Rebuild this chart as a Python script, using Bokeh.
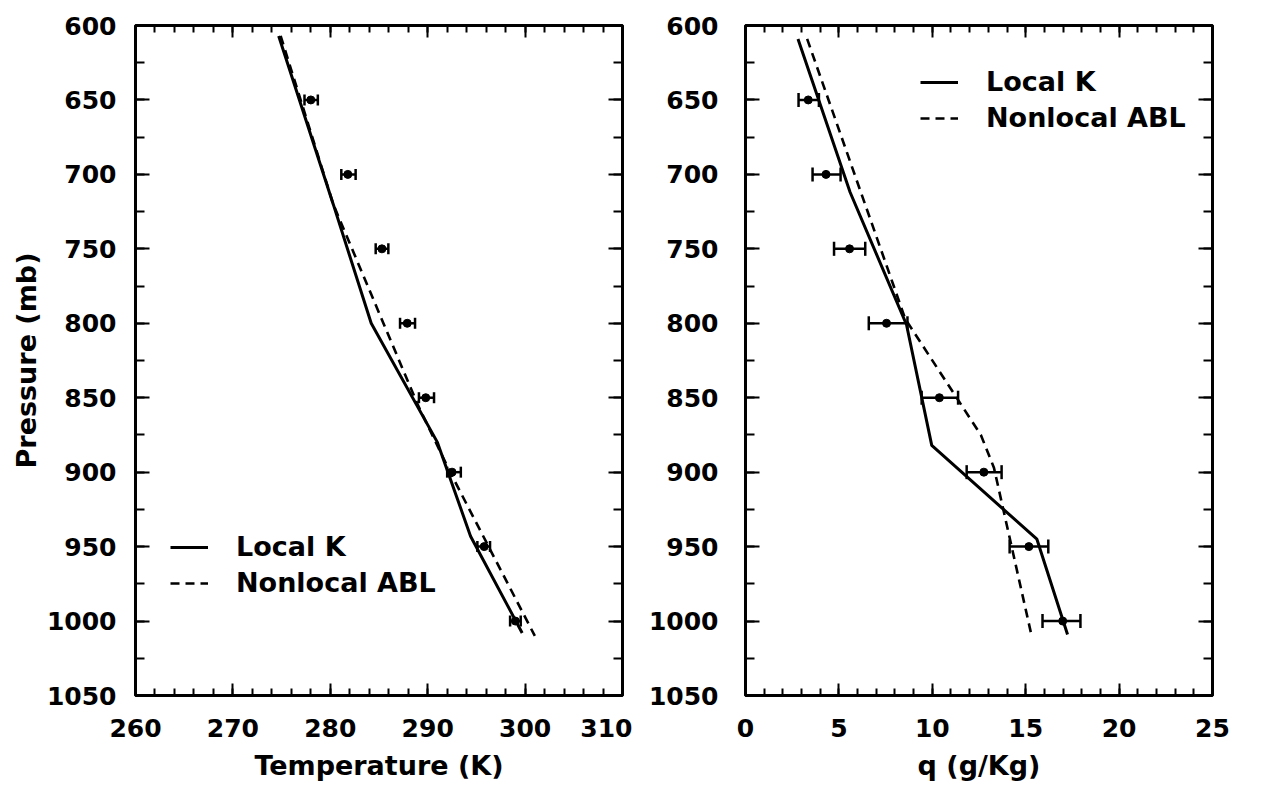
from bokeh.plotting import figure
from bokeh.layouts import row
from bokeh.models import (Range1d, SingleIntervalTicker, LinearAxis, Whisker, TeeHead,
                          ColumnDataSource, Legend, LegendItem, CustomJSTickFormatter, Spacer)
from bokeh.embed import file_html
from bokeh.resources import INLINE

# ---------------- data ----------------
obs_pressure = [650, 700, 750, 800, 850, 900, 950, 1000]

# Temperature panel
obs_temp = [278.0, 281.8, 285.3, 287.9, 289.8, 292.5, 295.8, 299.0]
obs_temp_lo = [277.35, 281.13, 284.66, 287.16, 289.1, 292.0, 295.1, 298.46]
obs_temp_hi = [278.72, 282.6, 285.96, 288.7, 290.65, 293.4, 296.4, 299.55]

localk_temp = [274.7, 280.3, 284.2, 291.0, 294.4, 299.7]
localk_temp_p = [607, 720, 800, 880, 943, 1008]
nonlocal_temp = [274.9, 280.3, 289.0, 292.3, 301.0]
nonlocal_temp_p = [607, 720, 855, 900, 1010]

# Specific humidity panel
obs_q = [3.36, 4.31, 5.57, 7.55, 10.38, 12.76, 15.17, 16.98]
obs_q_lo = [2.84, 3.59, 4.74, 6.60, 9.43, 11.84, 14.14, 15.90]
obs_q_hi = [3.93, 5.09, 6.41, 8.67, 11.38, 13.71, 16.21, 17.93]

localk_q = [2.81, 5.6, 8.62, 9.97, 15.6, 17.24]
localk_q_p = [609, 712, 801, 882, 945, 1009]
nonlocal_q = [3.3, 8.55, 12.6, 13.3, 15.3]
nonlocal_q_p = [609, 797, 875, 897, 1009]

labels = ["Local K", "Nonlocal ABL"]

FONT = "DejaVu Sans"
TICK_SIZE = "25px"
TITLE_SIZE = "27px"


def style_axis(ax, major_in, minor_in, hide_labels=False, standoff=20):
    ax.axis_line_color = None
    ax.major_tick_in = major_in
    ax.major_tick_out = 0
    ax.minor_tick_in = minor_in
    ax.minor_tick_out = 0
    ax.major_tick_line_width = 2
    ax.minor_tick_line_width = 2
    ax.major_tick_line_color = "black"
    ax.minor_tick_line_color = "black"
    ax.major_label_text_font = FONT
    ax.major_label_text_font_style = "bold"
    ax.major_label_text_color = "black"
    ax.major_label_text_font_size = TICK_SIZE
    ax.major_label_standoff = standoff
    if hide_labels:
        ax.formatter = CustomJSTickFormatter(code="return ''")
        ax.major_label_standoff = 0


def make_panel(xr, x_interval, width, border_left, border_right, y_standoff,
               x_title, y_title, obs_x, lo, hi, lk_x, lk_p, nl_x, nl_p,
               legend_loc, tee):
    p = figure(frame_width=width, frame_height=670, output_backend="svg",
               toolbar_location=None, x_range=Range1d(*xr), y_range=Range1d(1050, 600),
               min_border_left=border_left, min_border_right=border_right,
               min_border_top=25, min_border_bottom=90,
               x_axis_type=None, y_axis_type=None)
    p.outline_line_color = "black"
    p.outline_line_width = 3
    p.grid.visible = False
    p.background_fill_color = "white"
    p.border_fill_color = "white"

    xt = SingleIntervalTicker(interval=x_interval, num_minor_ticks=5)
    yt = SingleIntervalTicker(interval=50, num_minor_ticks=2)

    xb = LinearAxis(ticker=xt)
    style_axis(xb, 12, 7, standoff=23)
    xb.axis_label = x_title
    xb.axis_label_text_font = FONT
    xb.axis_label_text_font_style = "bold"
    xb.axis_label_text_font_size = TITLE_SIZE
    xb.axis_label_text_color = "black"
    xb.axis_label_standoff = 10
    p.add_layout(xb, "below")

    xa = LinearAxis(ticker=xt)
    style_axis(xa, 12, 7, hide_labels=True)
    p.add_layout(xa, "above")

    yl = LinearAxis(ticker=yt)
    style_axis(yl, 14, 9, standoff=y_standoff)
    if y_title:
        yl.axis_label = y_title
        yl.axis_label_text_font = FONT
        yl.axis_label_text_font_style = "bold"
        yl.axis_label_text_font_size = TITLE_SIZE
        yl.axis_label_text_color = "black"
        yl.axis_label_standoff = 2
    p.add_layout(yl, "left")

    yr = LinearAxis(ticker=yt)
    style_axis(yr, 14, 9, hide_labels=True)
    p.add_layout(yr, "right")

    r1 = p.line(lk_x, lk_p, line_color="black", line_width=3)
    r2 = p.line(nl_x, nl_p, line_color="black", line_width=2.6, line_dash="9 6")

    src = ColumnDataSource(dict(x=obs_x, p=obs_pressure, lo=lo, hi=hi))
    w = Whisker(source=src, base="p", lower="lo", upper="hi", dimension="width",
                line_color="black", line_width=2.5,
                upper_head=TeeHead(size=tee, line_width=2.5, line_color="black"),
                lower_head=TeeHead(size=tee, line_width=2.5, line_color="black"))
    p.add_layout(w)
    p.scatter("x", "p", source=src, size=8, color="black")

    leg = Legend(items=[LegendItem(label=labels[0], renderers=[r1]),
                        LegendItem(label=labels[1], renderers=[r2])],
                 location=legend_loc, orientation="vertical",
                 label_text_font=FONT, label_text_font_size="27px",
                 label_text_font_style="bold",
                 label_text_color="black",
                 glyph_width=38, glyph_height=30, label_height=30,
                 label_standoff=28, spacing=5, padding=0, margin=0,
                 border_line_color=None, background_fill_alpha=0)
    p.add_layout(leg, "center")
    return p


left = make_panel((260, 310), 10, 487, 110, 10, 19, "Temperature (K)", "Pressure (mb)",
                  obs_temp, obs_temp_lo, obs_temp_hi,
                  localk_temp, localk_temp_p, nonlocal_temp, nonlocal_temp_p,
                  (35, 97), 11)
right = make_panel((0, 25), 5, 467, 113, 30, 27, "q (g/Kg)", None,
                   obs_q, obs_q_lo, obs_q_hi,
                   localk_q, localk_q_p, nonlocal_q, nonlocal_q_p,
                   (175, 562), 14)

layout = row(Spacer(width=7, height=10), left, right, spacing=0)

open("out.html", "w").write(file_html(layout, INLINE))
